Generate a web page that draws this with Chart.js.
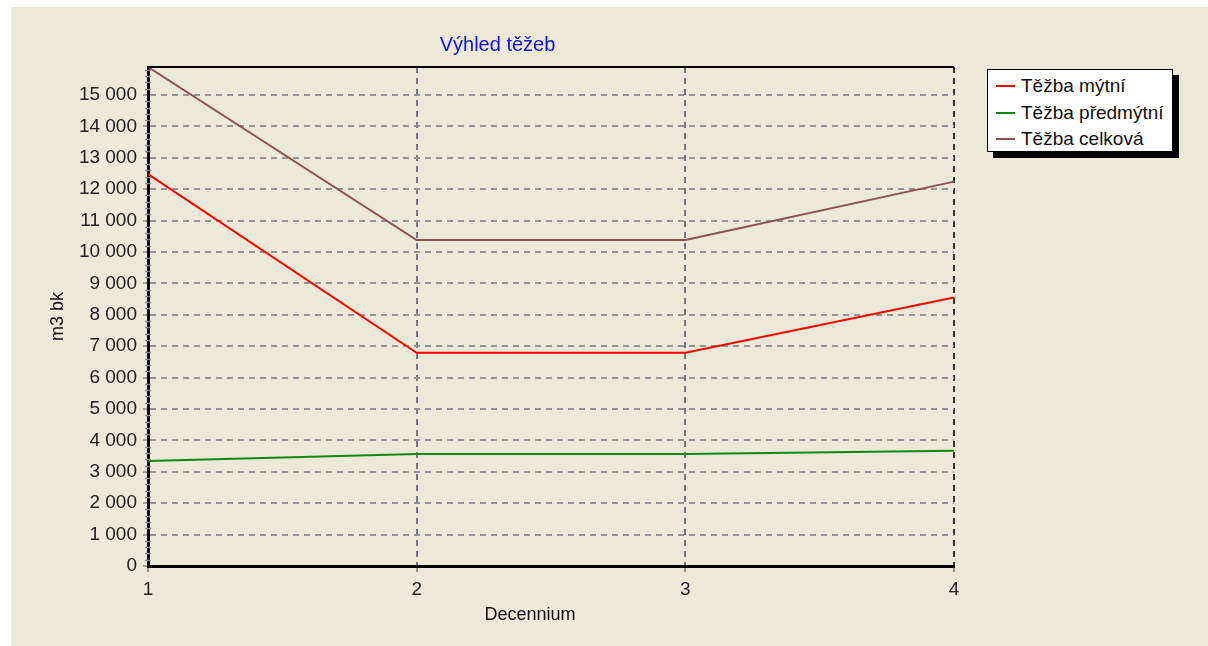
<!DOCTYPE html>
<html>
<head>
<meta charset="utf-8">
<script src="https://cdn.jsdelivr.net/npm/chart.js@4"></script>
<style>
  body { margin: 0; background: #fff; width: 1208px; height: 646px; overflow: hidden; }
  #panel { position: absolute; left: 11px; top: 7px; width: 1197px; height: 639px; background: #ECE9D8; }
  #wrap { position: absolute; left: 0; top: 0; width: 973px; height: 639px; }
  #legenda {
    position: absolute; left: 976px; top: 62px; width: 184px; height: 81px;
    background: #fff; border: 1px solid #000; box-shadow: 6px 6px 0 #000;
    font-family: "Liberation Sans", Arial, sans-serif; font-size: 19px; color: #111;
  }
  #legenda div { position: absolute; left: 0; height: 26px; line-height: 26px; white-space: nowrap; }
  #legenda span.cara { position: absolute; left: 8px; top: 12px; width: 19px; height: 2px; }
  #legenda span.txt { position: absolute; left: 33px; top: 0; }
</style>
</head>
<body>
<div id="panel">
  <div id="wrap"><canvas id="graf"></canvas></div>
  <div id="legenda"></div>
</div>
<script>
// ---------------------------------------------------------------------------- D A T A
const decennia = ['1', '2', '3', '4'];
const tezbaMytni = [12480, 6790, 6790, 8550];
const tezbaPredmytni = [3340, 3570, 3570, 3670];
const tezbaCelkova = [15890, 10380, 10380, 12240];
const yTicks = [0, 1000, 2000, 3000, 4000, 5000, 6000, 7000, 8000, 9000, 10000, 11000, 12000, 13000, 14000, 15000];
const osaMax = 15890;
const nadpis = 'Výhled těžeb';
const osaX = 'Decennium';

const font = "'Liberation Sans', Arial, sans-serif";

// mezera jako oddělovač tisíců : 15 000
const formatCislo = (v) => String(v).replace(/\B(?=(\d{3})+(?!\d))/g, ' ');

// ---------------------------------------------------------------------------- P L U G I N
// nadpis, popis osy x, horní okraj plochy + malé vedlejší značky na ose y
const ramecek = {
    id: 'ramecek',
    afterDraw(chart) {
        const {ctx, chartArea} = chart;
        const y = chart.scales.y;
        ctx.save();
        ctx.strokeStyle = '#000';
        ctx.lineWidth = 2;
        ctx.beginPath();
        ctx.moveTo(chartArea.left, chartArea.top);
        ctx.lineTo(chartArea.right, chartArea.top);
        ctx.stroke();
        ctx.strokeStyle = '#8a8a8a';
        ctx.lineWidth = 1.5;
        for (let v = 200; v < osaMax; v += 200) {
            if (v % 1000 === 0) continue;
            const py = Math.round(y.getPixelForValue(v)) + 0.5;
            ctx.beginPath();
            ctx.moveTo(chartArea.left - 3, py);
            ctx.lineTo(chartArea.left + 3, py);
            ctx.stroke();
        }
        ctx.textAlign = 'center';
        ctx.textBaseline = 'middle';
        ctx.fillStyle = '#1010F0';
        ctx.font = '20px ' + font;
        ctx.fillText(nadpis, chart.width / 2, 38);
        ctx.fillStyle = '#111';
        ctx.font = '18px ' + font;
        ctx.fillText(osaX, (chartArea.left + chartArea.right) / 2 - 21, chartArea.bottom + 49);
        ctx.restore();
    }
};

// ---------------------------------------------------------------------------- C H A R T
const ctx = document.getElementById('graf').getContext('2d');
const myChart = new Chart(ctx, {
    type: 'line',
    data: {
        labels: decennia,
        datasets: [
            { label: 'Těžba mýtní', data: tezbaMytni, borderColor: '#FF0000' },
            { label: 'Těžba předmýtní', data: tezbaPredmytni, borderColor: '#108A10' },
            { label: 'Těžba celková', data: tezbaCelkova, borderColor: '#8C5252' }
        ]
    },
    options: {
        responsive: true,
        maintainAspectRatio: false,
        animation: false,
        elements: {
            line: { borderWidth: 2, tension: 0 },
            point: { radius: 0 }
        },
        layout: {
            padding: { left: 0, right: 30, top: 60, bottom: 0 }
        },
        plugins: {
            legend: { display: false },
            tooltip: { enabled: false },
            title: { display: false }
        },
        scales: {
            x: {
                offset: false,
                afterFit: (scale) => { scale.height = 80; },
                grid: {
                    color: (c) => c.index === 3 ? '#333' : '#777',
                    lineWidth: 2,
                    tickLength: 6,
                    tickColor: '#777',
                    tickWidth: 1.5
                },
                border: { display: true, color: '#000', width: 3, dash: [6, 5] },
                ticks: {
                    color: '#222',
                    padding: 6,
                    maxRotation: 0,
                    font: { family: font, size: 19 }
                }
            },
            y: {
                min: 0,
                max: osaMax,
                afterFit: (scale) => { scale.width = 137; },
                afterBuildTicks: (scale) => { scale.ticks = yTicks.map(v => ({ value: v })); },
                grid: {
                    color: (c) => c.tick && c.tick.value === 0 ? 'rgba(0,0,0,0)' : '#939393',
                    lineWidth: 2,
                    tickLength: 5,
                    tickColor: '#8a8a8a',
                    tickWidth: 1.5
                },
                border: { display: true, color: '#000', width: 3, dash: [6, 5] },
                ticks: {
                    color: '#222',
                    padding: 6,
                    font: { family: font, size: 19 },
                    callback: (v) => formatCislo(v)
                },
                title: {
                    display: true,
                    text: 'm3 bk',
                    color: '#111',
                    font: { family: font, size: 18 },
                    padding: { top: 36, bottom: 36 }
                }
            }
        }
    },
    plugins: [ramecek]
});

// ---------------------------------------------------------------------------- L E G E N D A
const legenda = document.getElementById('legenda');
myChart.data.datasets.forEach((ds, i) => {
    const row = document.createElement('div');
    row.style.top = (3 + i * 26.5) + 'px';
    row.innerHTML = `<span class="cara" style="background:${ds.borderColor}"></span><span class="txt">${ds.label}</span>`;
    legenda.appendChild(row);
});
</script>
</body>
</html>
